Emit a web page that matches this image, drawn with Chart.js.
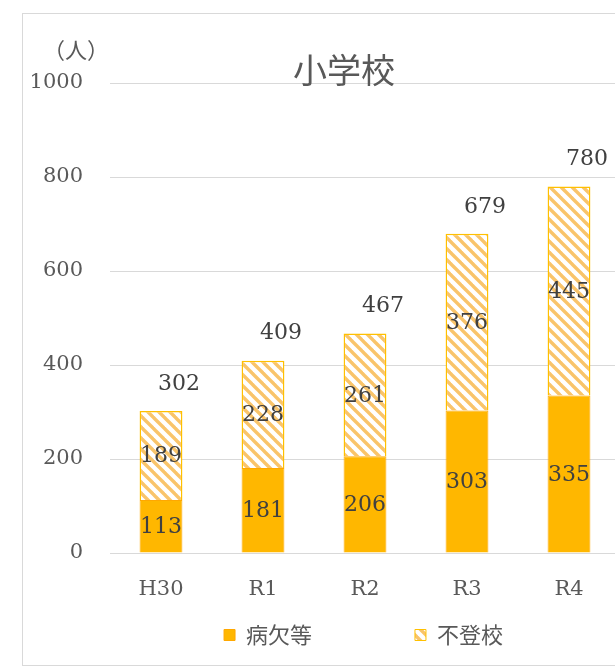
<!DOCTYPE html>
<html><head><meta charset="utf-8">
<script src="https://cdn.jsdelivr.net/npm/chart.js@4/dist/chart.umd.min.js"></script>
<style>
html,body{margin:0;padding:0;background:#fff;overflow:hidden;}
#wrap{position:absolute;left:0;top:0;width:705px;height:670px;}
</style></head>
<body>
<div id="wrap"><canvas id="c"></canvas></div>
<script>
const years=['H30','R1','R2','R3','R4'];
const sick=[113,181,206,303,335];
const futoko=[189,228,261,376,445];
const yTicks=[0,200,400,600,800,1000];
const seriesNames=['病欠等','不登校'];

const serif='"DejaVu Serif", serif', sans='"Noto Sans CJK JP", "Noto Sans", sans-serif';
const gray='#595959';

// hatch fill for 不登校
function hatch(){
  const t=11, p=document.createElement('canvas'); p.width=t; p.height=t;
  const g=p.getContext('2d'); g.fillStyle='#fff'; g.fillRect(0,0,t,t);
  g.strokeStyle='#F9C46A'; g.lineWidth=3.4;
  [-t,0,t].forEach(dx=>{ g.beginPath(); g.moveTo(dx-2,-2); g.lineTo(dx+t+2,t+2); g.stroke(); });
  return g.createPattern(p,'repeat');
}

const extras={
  id:'extras',
  beforeDraw(ch){
    const c=ch.ctx; c.save(); c.strokeStyle='#D9D9D9'; c.lineWidth=1;
    c.strokeRect(22.5,13.5,ch.width,652); c.restore();
  },
  afterDatasetsDraw(ch){
    const c=ch.ctx; c.save();
    c.textAlign='center'; c.textBaseline='middle';
    // segment values
    c.font='22px '+serif; c.fillStyle='#404040';
    [sick,futoko].forEach((vals,d)=>{
      ch.getDatasetMeta(d).data.forEach((el,i)=>{ c.fillText(vals[i],el.x,(el.y+el.base)/2+1); });
    });
    // totals above the stacks
    ch.getDatasetMeta(1).data.forEach((el,i)=>{ c.fillText(sick[i]+futoko[i],el.x+18,el.y-27); });
    // title and unit
    c.fillStyle=gray; c.font='34px '+sans; c.fillText('小学校',344,70);
    c.font='22px '+sans; c.fillText('（人）',76,50);
    c.restore();
  }
};

new Chart(document.getElementById('c'),{
  type:'bar',
  data:{labels:years,datasets:[
    {label:seriesNames[0],data:sick,backgroundColor:'#FFB700',borderColor:'#FFA800',borderWidth:1,barPercentage:0.42,categoryPercentage:1},
    {label:seriesNames[1],data:futoko,backgroundColor:hatch(),borderColor:'#FFC000',borderWidth:1.5,barPercentage:0.42,categoryPercentage:1}
  ]},
  options:{
    responsive:true,maintainAspectRatio:false,animation:false,
    layout:{padding:{left:22,top:83,right:0,bottom:14}},
    plugins:{
      tooltip:{enabled:false},
      legend:{position:'bottom',labels:{
        color:gray,font:{family:sans,size:22},boxWidth:11,boxHeight:11,padding:10,
        generateLabels:(ch)=>ch.data.datasets.map((ds,i)=>({
          text:i===0?ds.label+'\u3000\u3000\u3000\u3000 ':ds.label,
          fillStyle:ds.backgroundColor,strokeStyle:ds.borderColor,lineWidth:1,datasetIndex:i,fontColor:gray
        }))
      }}
    },
    scales:{
      x:{stacked:true,grid:{display:false},border:{color:'#D9D9D9'},
         ticks:{color:gray,font:{family:serif,size:21},padding:16},
         afterFit:(s)=>{s.height=61;}},
      y:{stacked:true,min:0,max:1000,
         afterBuildTicks:(s)=>{s.ticks=yTicks.map(v=>({value:v}));},
         grid:{color:'#D9D9D9',drawTicks:false},border:{display:false},
         ticks:{color:gray,font:{family:serif,size:21},padding:27,callback:(v)=>String(v)},
         afterFit:(s)=>{s.width=88;}},
      y2:{position:'right',display:true,grid:{display:false},border:{display:false},ticks:{display:false},
         afterFit:(s)=>{s.width=85;}}
    }
  },
  plugins:[extras]
});
</script>
</body></html>
